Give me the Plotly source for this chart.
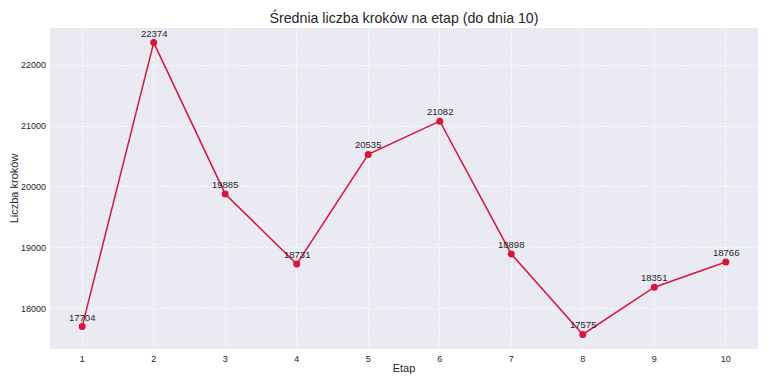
import plotly.graph_objects as go

etapy = [1, 2, 3, 4, 5, 6, 7, 8, 9, 10]
kroki = [17704, 22374, 19885, 18731, 20535, 21082, 18898, 17575, 18351, 18766]
y_ticks = [18000, 19000, 20000, 21000, 22000]

fig = go.Figure()
fig.add_trace(go.Scatter(
    x=etapy, y=kroki, mode="lines+markers",
    line=dict(color="#DC143C", width=1.5),
    marker=dict(color="#DC143C", size=7),
    cliponaxis=False,
))
for e, k in zip(etapy, kroki):
    fig.add_annotation(x=e, y=k, text=str(k), showarrow=False, xanchor="center",
                       yanchor="bottom", yshift=3, borderpad=0,
                       font=dict(size=9.5, color="#262626"))
# page body has an 8px default margin: figure is sized so it fits the 768x384 window
fig.update_layout(
    width=760, height=376,
    margin=dict(l=42, r=10, t=20, b=35),
    paper_bgcolor="white", plot_bgcolor="#EAEAF2",
    font=dict(family="Liberation Sans, Arial", color="#262626"),
    title=dict(text="Średnia liczba kroków na etap (do dnia 10)", x=0.5, xref="paper",
               xanchor="center", y=0.973, yanchor="middle",
               font=dict(size=14.2, color="#262626")),
    showlegend=False,
)
grid = dict(showgrid=True, gridcolor="rgba(255,255,255,0.7)", griddash="3px,2px", gridwidth=0.6,
            zeroline=False, showline=False, automargin=False,
            tickfont=dict(size=9, color="#262626"), ticks="", ticklabelstandoff=3)
fig.update_xaxes(
    range=[0.55, 10.45], tickvals=etapy, ticktext=[str(e) for e in etapy],
    title=dict(text="Etap", font=dict(size=11, color="#262626"), standoff=1),
    **grid,
)
fig.update_yaxes(
    range=[17335, 22614], tickvals=y_ticks, ticktext=[str(t) for t in y_ticks],
    title=dict(text="Liczba kroków", font=dict(size=11, color="#262626"), standoff=2),
    **grid,
)
fig.write_html("out.html")
